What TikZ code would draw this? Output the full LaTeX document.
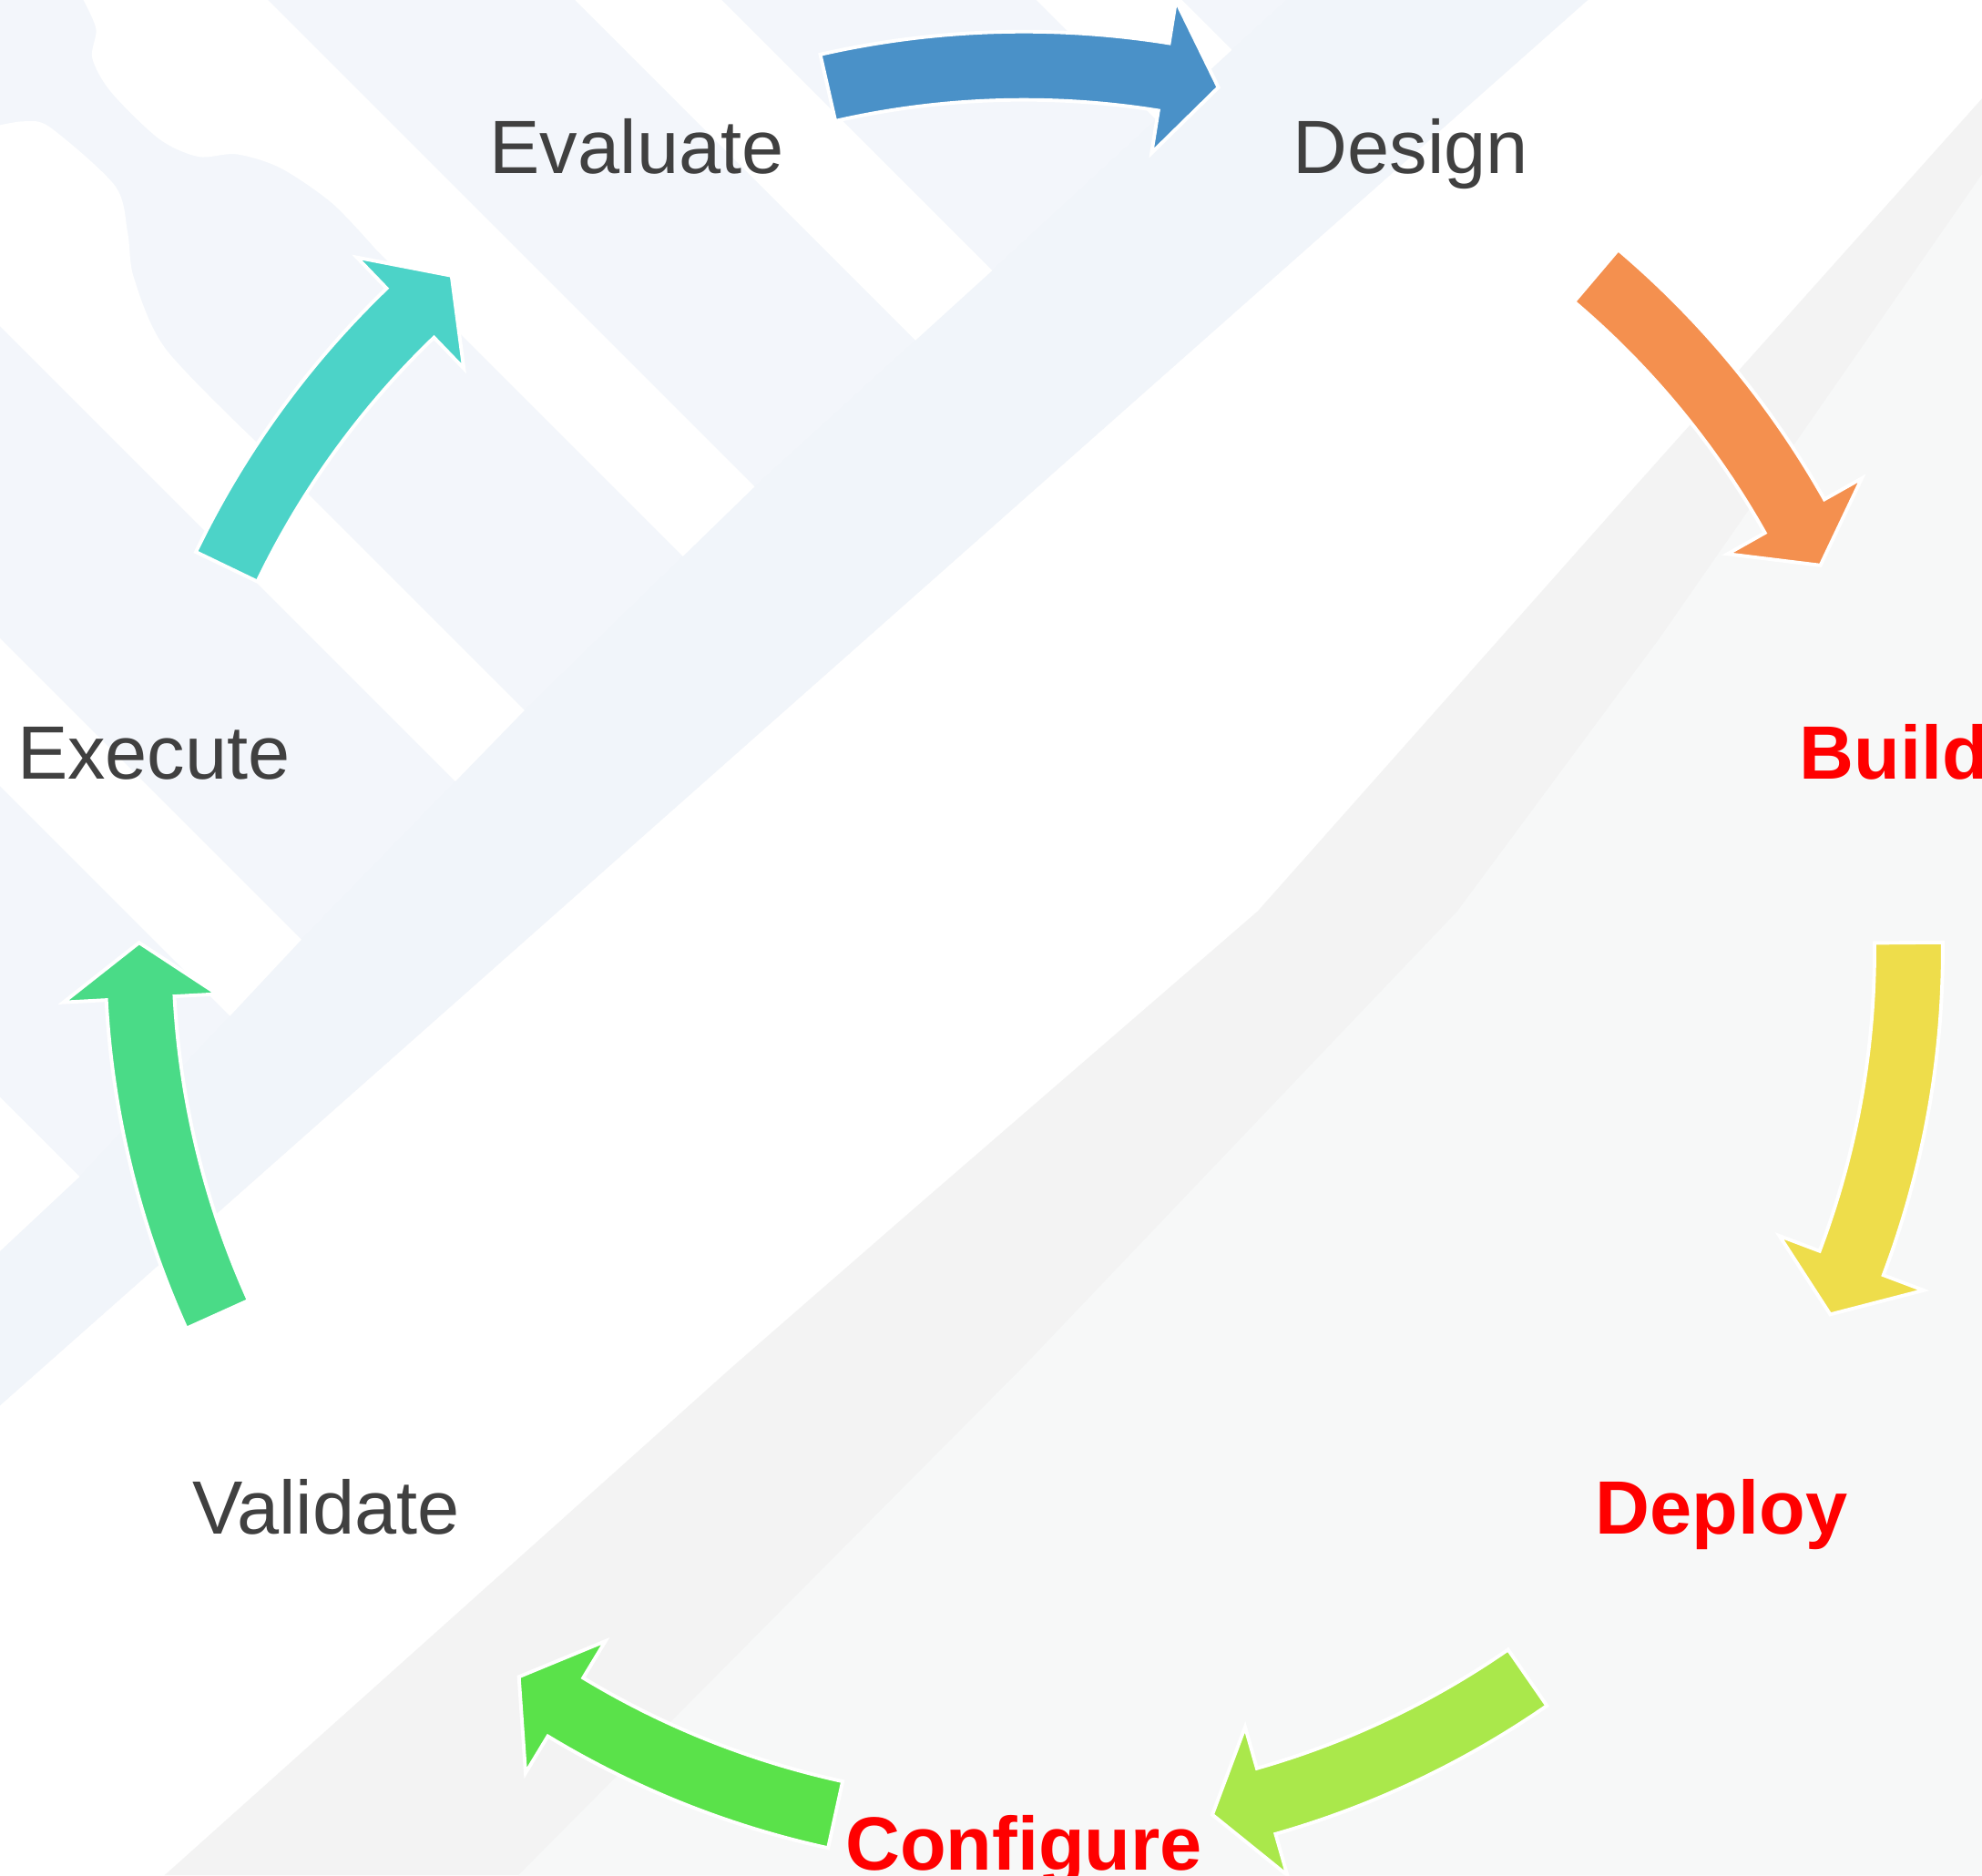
\documentclass[tikz,border=0pt]{standalone}
\usepackage{fontspec}
\setmainfont{Liberation Sans}

\definecolor{labelgray}{HTML}{404040}
\definecolor{hotred}{HTML}{FF0000}
\definecolor{bgblue}{HTML}{F3F6FB}
\definecolor{bgband}{HTML}{F1F5FA}
\definecolor{bggray}{HTML}{F3F3F3}
\definecolor{bglight}{HTML}{F7F8F8}
\definecolor{arrblue}{HTML}{4A91C8}
\definecolor{arrorange}{HTML}{F4904F}
\definecolor{arryellow}{HTML}{EEDD4B}
\definecolor{arrlime}{HTML}{AAE84B}
\definecolor{arrgreen}{HTML}{5AE24A}
\definecolor{arrmint}{HTML}{4ADB87}
\definecolor{arrteal}{HTML}{4CD3C8}

% curved block arrow on the ring, #1 = tail angle, #2 = tip angle
\newcommand{\ringarrow}[3]{%
  \fill[#3, draw=white, line width=0.8pt]
    (#1:727) arc[start angle=#1, end angle=#2+3.6, radius=727]
    -- (#2+3.6:761) -- (#2:700) -- (#2+3.6:639)
    -- (#2+3.6:673) arc[start angle=#2+3.6, end angle=#1, radius=673]
    -- cycle;}

\begin{document}
\begin{tikzpicture}[x=0.01cm, y=0.01cm,
  stage/.style={font=\fontsize{17}{20}\selectfont, text=labelgray,
    inner sep=0pt, text height=12.2pt, text depth=0pt, anchor=center},
  hotstage/.style={stage, text=hotred, font=\fontsize{17}{20}\selectfont\bfseries}]
\useasboundingbox (-810,-732) rectangle (758,752);
\fill[white] (-810,-732) rectangle (758,752);

% background
\begin{scope}[shift={(-810,752)}, yscale=-1]
  \fill[bgblue] (0,0) -- (1256,0) -- (0,1112) -- cycle;
  \fill[bgband] (1018,0) -- (1256,0) -- (0,1112) -- (0,990) -- (63,931)
    -- (237,745) -- (414,563) -- (596,386) -- (785,214) -- (974,40) -- cycle;
  \begin{scope}
    \clip (0,0) -- (1018,0) -- (974,40) -- (785,214) -- (596,386)
      -- (414,563) -- (237,745) -- (63,931) -- (0,990) -- cycle;
    \fill[white] (820,0) -- (935,0) -- (1935,1000) -- (1820,1000) -- cycle;
    \fill[white] (455,0) -- (571,0) -- (1571,1000) -- (1455,1000) -- cycle;
    \fill[white] (212,0) -- (1212,1000) -- (1100,1000) -- (298,198)
      -- plot[smooth] coordinates {(298,198) (263,161) (222,133) (187,122)
      (157,124) (126,110) (88,73) (73,46) (76,23) (66,0)} -- cycle;
    \fill[white] (0,258) -- (0,99)
      -- plot[smooth] coordinates {(0,99) (20,96) (40,101) (91,147)
      (101,184) (106,220) (131,276) (202,349)} -- (853,1000) -- (742,1000) -- cycle;
    \fill[white] (0,505) -- (495,1000) -- (378,1000) -- (0,622) -- cycle;
    \fill[white] (0,868) -- (132,1000) -- (10,1000) -- (0,990) -- cycle;
  \end{scope}
  \fill[bggray] (1568,78) -- (1280,400) -- (995,721) -- (720,959) -- (580,1081)
    -- (130,1484) -- (1568,1484) -- cycle;
  \fill[bglight] (1568,138) -- (1313,505) -- (1153,721) -- (810,1081)
    -- (410,1484) -- (1568,1484) -- cycle;
\end{scope}

\coordinate (c) at (0,0);

\node[stage] (evaluate) at (115.71:706) {Evaluate};
\node[stage] (design) at (64.29:706) {Design};
\node[hotstage] (build) at (12.86:706) {Build};
\node[hotstage] (deploy) at (-38.57:706) {Deploy};
\node[hotstage] (configure) at (-90:706) {Configure};
\node[stage] (validate) at (-141.43:706) {Validate};
\node[stage] (execute) at (167.14:706) {Execute};

\foreach \a/\b/\col in {102.8/77.3/arrblue, 49.7/25.8/arrorange,
  0.5/-24.3/arryellow, -55.3/-77.7/arrlime, -102.3/-124.8/arrgreen,
  -155.7/-180.5/arrmint, 154.3/130.3/arrteal}
  \ringarrow{\a}{\b}{\col};

\end{tikzpicture}
\end{document}
